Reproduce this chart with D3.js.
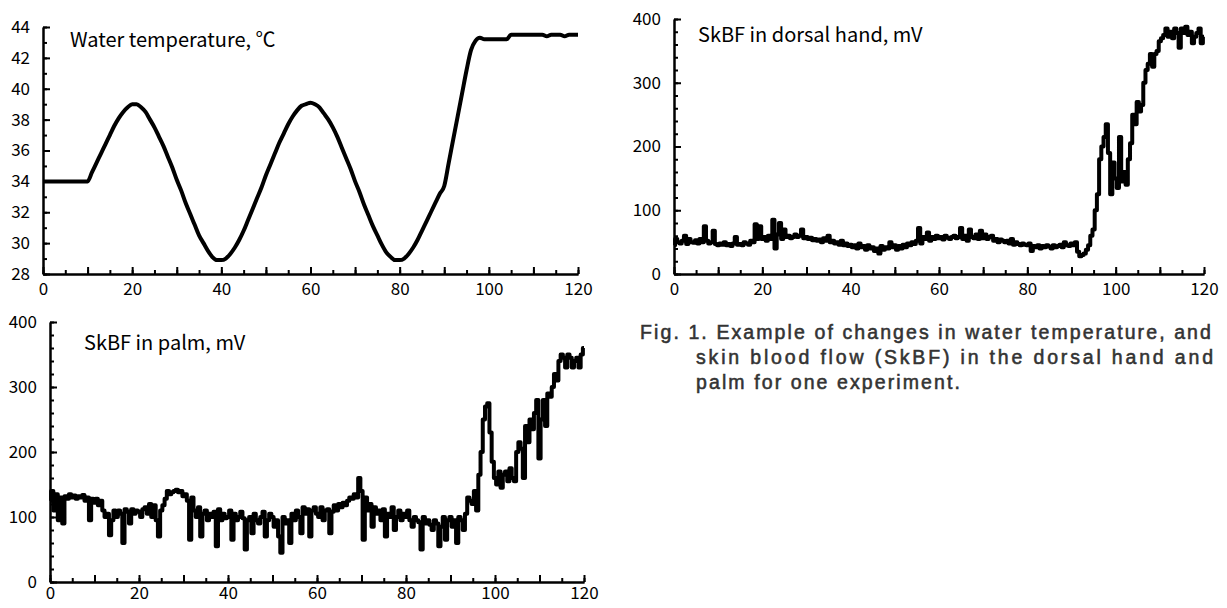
<!DOCTYPE html>
<html>
<head>
<meta charset="utf-8">
<script src="https://cdn.jsdelivr.net/npm/d3@7"></script>
<style>
  body { margin: 0; background: #fff; }
  .axis path, .axis line { stroke: #000; stroke-width: 2; }
  .axis text { font-family: "Noto Sans CJK JP", "Liberation Sans", sans-serif; font-size: 17px; fill: #000; }
  .title { font-family: "Noto Sans CJK JP", "Liberation Sans", sans-serif; font-size: 20px; fill: #000; }
  .caption { font-family: "Liberation Sans", Arial, sans-serif; font-size: 19.5px; fill: #333; stroke: #333; stroke-width: 0.55px; }
</style>
</head>
<body>
<script>
const width = 1227;
const height = 608;

// water temperature, one value per minute (0..120)
const tempMinutes = d3.range(0, 121, 1);
const tempValues = [
  34, 34, 34, 34, 34, 34, 34, 34, 34, 34, 34,
  34.6, 35.2, 35.8, 36.4, 37.0, 37.6, 38.1, 38.5, 38.8, 39.0,
  39.0, 38.8, 38.5, 38.0, 37.5, 36.9, 36.3, 35.6, 34.9, 34.1,
  33.4, 32.6, 31.9, 31.2, 30.5, 30.0, 29.5, 29.1, 28.9, 28.9,
  29.0, 29.3, 29.7, 30.2, 30.8, 31.5, 32.2, 32.9, 33.6, 34.4,
  35.1, 35.8, 36.5, 37.1, 37.7, 38.2, 38.6, 38.9, 39.0, 39.1,
  39.0, 38.8, 38.4, 38.0, 37.5, 36.9, 36.2, 35.5, 34.8, 34.0,
  33.3, 32.5, 31.8, 31.1, 30.5, 29.9, 29.4, 29.1, 28.9, 28.9,
  29.0, 29.3, 29.7, 30.2, 30.8, 31.4, 32.0, 32.6, 33.2, 33.7,
  35.2, 36.7, 38.2, 39.7, 41.2, 42.5, 43.1, 43.3, 43.2, 43.2,
  43.2, 43.2, 43.2, 43.2, 43.5, 43.5, 43.5, 43.5, 43.5, 43.5,
  43.5, 43.5, 43.4, 43.5, 43.5, 43.5, 43.4, 43.5, 43.5, 43.5
];

// skin blood flow, one value per half minute (0..120)
const flowMinutes = d3.range(0, 120.25, 0.5);
const dorsalValues = [
  45, 55, 50, 48, 52, 60, 47, 55, 50, 49,
  53, 48, 55, 50, 75, 52, 48, 50, 68, 47,
  45, 48, 46, 50, 45, 47, 44, 48, 58, 46,
  47, 45, 50, 48, 46, 52, 50, 78, 55, 75,
  55, 58, 52, 60, 55, 85, 40, 62, 80, 55,
  70, 58, 60, 56, 58, 62, 58, 60, 70, 56,
  58, 55, 57, 53, 55, 52, 54, 50, 56, 52,
  60, 50, 52, 48, 50, 46, 52, 45, 48, 44,
  46, 42, 45, 40, 48, 42, 44, 38, 45, 40,
  42, 36, 40, 32, 44, 38, 42, 40, 50, 42,
  45, 38, 44, 40, 46, 42, 48, 45, 50, 47,
  52, 72, 48, 58, 55, 65, 52, 58, 55, 60,
  56, 58, 54, 60, 57, 55, 58, 60, 56, 58,
  72, 55, 60, 52, 70, 58, 56, 62, 55, 68,
  56, 62, 55, 58, 60, 52, 55, 50, 54, 52,
  50, 52, 48, 55, 46, 50, 47, 45, 48, 46,
  45, 48, 36, 44, 42, 45, 40, 44, 42, 45,
  43, 40, 45, 42, 44, 46, 42, 50, 45, 44,
  48, 45, 50, 35, 28, 30, 32, 38, 45, 60,
  70, 100, 125, 180, 200, 215, 235, 190, 125, 175,
  150, 135, 215, 145, 160, 140, 180, 205, 250, 235,
  270, 255, 265, 300, 320, 330, 345, 325, 345, 350,
  365, 370, 375, 385, 372, 380, 370, 385, 378, 355,
  385, 378, 388, 375, 380, 362, 372, 378, 385, 362,
  372
];
const palmValues = [
  125, 140, 110, 135, 95, 130, 90, 132, 128, 135,
  130, 133, 128, 132, 130, 134, 125, 130, 95, 128,
  122, 128, 118, 125, 110, 100, 105, 72, 95, 110,
  100, 110, 105, 60, 112, 108, 90, 112, 105, 110,
  108, 100, 112, 115, 105, 120, 100, 118, 95, 70,
  110, 118, 128, 140, 135, 138, 140, 142, 138, 140,
  132, 135, 125, 65, 130, 110, 100, 115, 70, 105,
  110, 95, 105, 100, 108, 55, 112, 95, 105, 98,
  100, 110, 65, 105, 95, 100, 108, 98, 50, 95,
  100, 75, 105, 95, 90, 100, 108, 70, 95, 105,
  100, 85, 95, 70, 45, 100, 90, 95, 60, 105,
  95, 110, 100, 75, 115, 105, 112, 70, 110, 115,
  105, 100, 115, 95, 110, 112, 75, 108, 118, 110,
  120, 115, 122, 118, 125, 130, 128, 135, 130, 160,
  140, 65, 130, 110, 120, 85, 115, 105, 110, 95,
  112, 70, 105, 100, 115, 80, 100, 110, 95, 105,
  100, 110, 95, 85, 100, 95, 92, 50, 100, 90,
  95, 88, 80, 95, 90, 55, 85, 100, 65, 95,
  100, 85, 95, 60, 100, 95, 80, 105, 130, 125,
  120, 140, 110, 165, 200, 250, 270, 275, 230, 185,
  160, 150, 170, 145, 165, 170, 155, 175, 160, 155,
  200, 215, 205, 160, 240, 215, 250, 235, 260, 280,
  190, 250, 280, 240, 290, 285, 300, 320, 310, 340,
  350, 345, 330, 350, 345, 330, 340, 345, 330, 350,
  360
];

const xTicksMinor = d3.range(0, 121, 5);
const xTicksMajor = d3.range(0, 121, 10);
const tempTicksMinor = d3.range(28, 45, 1);
const tempTicksMajor = d3.range(28, 45, 2);
const flowTicksMinor = d3.range(0, 401, 20);
const flowTicksMajor = d3.range(0, 401, 100);

const captionLines = [
  "Fig. 1. Example of changes in water temperature, and",
  "skin blood flow (SkBF) in the dorsal hand and",
  "palm for one experiment."
];

const svg = d3.select("body")
  .append("svg")
  .attr("width", width)
  .attr("height", height);

svg.append("rect").attr("width", width).attr("height", height).attr("fill", "#fff");

function drawPanel(p) {
  const g = svg.append("g");
  const x = d3.scaleLinear().domain([0, 120]).range([p.left, p.right]);
  const y = d3.scaleLinear().domain(p.yDomain).range([p.bottom, p.top]);

  // x axis: short ticks every 5, long every 10, labels every 20
  g.append("g").attr("class", "axis")
    .attr("transform", `translate(0,${p.bottom})`)
    .call(d3.axisBottom(x).tickValues(xTicksMinor).tickSize(-4).tickSizeOuter(0).tickFormat(""));
  g.append("g").attr("class", "axis")
    .attr("transform", `translate(0,${p.bottom})`)
    .call(d3.axisBottom(x).tickValues(xTicksMajor).tickSize(-7).tickSizeOuter(0).tickPadding(p.xPad)
      .tickFormat(d => d % 20 === 0 ? d : ""));

  g.append("g").attr("class", "axis")
    .attr("transform", `translate(${p.left},0)`)
    .call(d3.axisLeft(y).tickValues(p.minor).tickSize(-4).tickSizeOuter(0).tickFormat(""));
  g.append("g").attr("class", "axis")
    .attr("transform", `translate(${p.left},0)`)
    .call(d3.axisLeft(y).tickValues(p.major).tickSize(-7).tickSizeOuter(0).tickPadding(13));

  const line = d3.line()
    .x((d, i) => x(p.xs[i]))
    .y(d => y(d))
    .curve(p.curve);

  g.append("path")
    .datum(p.values)
    .attr("d", line)
    .attr("fill", "none")
    .attr("stroke", "#000")
    .attr("stroke-width", p.lineWidth)
    .attr("stroke-linejoin", "round");

  g.append("text")
    .attr("class", "title")
    .attr("x", p.titleX)
    .attr("y", p.titleY)
    .text(p.title);
}

drawPanel({
  left: 43, right: 578, top: 27, bottom: 274, xPad: 9,
  yDomain: [28, 44], minor: tempTicksMinor, major: tempTicksMajor,
  xs: tempMinutes, values: tempValues, curve: d3.curveMonotoneX, lineWidth: 4,
  title: "Water temperature, ℃", titleX: 70, titleY: 47
});

drawPanel({
  left: 674, right: 1204, top: 19, bottom: 274, xPad: 9,
  yDomain: [0, 400], minor: flowTicksMinor, major: flowTicksMajor,
  xs: flowMinutes, values: dorsalValues, curve: d3.curveStep, lineWidth: 4,
  title: "SkBF in dorsal hand, mV", titleX: 698, titleY: 42
});

drawPanel({
  left: 50, right: 584, top: 322, bottom: 582, xPad: 5,
  yDomain: [0, 400], minor: flowTicksMinor, major: flowTicksMajor,
  xs: flowMinutes, values: palmValues, curve: d3.curveStep, lineWidth: 4,
  title: "SkBF in palm, mV", titleX: 84, titleY: 350
});

// figure caption, spaced out so the first line spans 640..1213
const cap = svg.append("g");
const capText = cap.selectAll("text")
  .data(captionLines)
  .join("text")
  .attr("class", "caption")
  .attr("x", (d, i) => i === 0 ? 640 : 696)
  .attr("y", (d, i) => 339 + i * 25)
  .text(d => d);

const natural = capText.nodes()[0].getComputedTextLength();
const spacing = Math.max(0, (573 - natural) / captionLines[0].length);
capText.style("letter-spacing", spacing + "px");

// second line is justified to the same right edge
capText.filter((d, i) => i === 1)
  .style("letter-spacing", null)
  .attr("textLength", 517)
  .attr("lengthAdjust", "spacing");
</script>
</body>
</html>
